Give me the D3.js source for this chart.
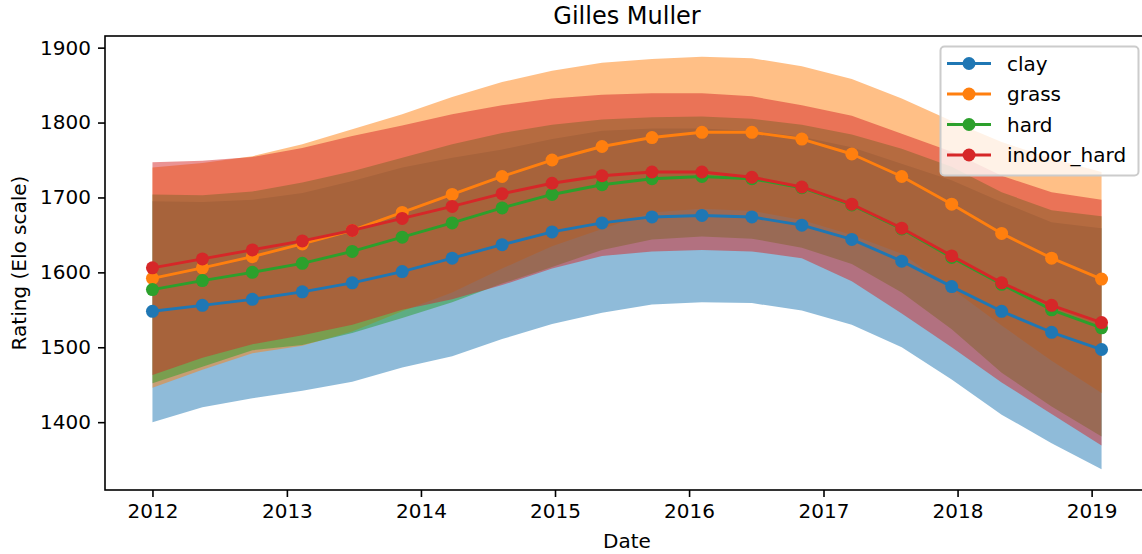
<!DOCTYPE html>
<html>
<head>
<meta charset="utf-8">
<script src="https://cdn.jsdelivr.net/npm/d3@7/dist/d3.min.js"></script>
<style>
  body { margin: 0; background: #fff; }
  svg { display: block; font-family: "DejaVu Sans", sans-serif; }
</style>
</head>
<body>
<svg id="chart" width="1142" height="554"></svg>
<script>
// dates of the rating estimates
const dates = ["2012-01-01","2012-05-16","2012-09-29","2013-02-12","2013-06-28","2013-11-11","2014-03-27","2014-08-10","2014-12-24","2015-05-09",
               "2015-09-22","2016-02-05","2016-06-20","2016-11-03","2017-03-19","2017-08-02","2017-12-16","2018-05-01","2018-09-14","2019-01-28"]

const surfaces = ["clay","grass","hard","indoor_hard"]
const colors   = ["#1f77b4","#ff7f0e","#2ca02c","#d62728"]

// mean rating per surface
const clay        = [1548,1556,1564,1574,1586,1601,1619,1637,1654,1666,1674,1676,1674,1663,1644,1615,1581,1548,1520,1497]
const grass       = [1592,1606,1621,1638,1656,1680,1704,1728,1750,1768,1780,1787,1787,1778,1758,1728,1691,1652,1619,1591]
const hard        = [1577,1589,1600,1612,1628,1647,1666,1686,1704,1717,1725,1728,1725,1713,1690,1658,1620,1584,1550,1526]
const indoor_hard = [1606,1618,1630,1642,1656,1672,1688,1705,1719,1729,1734,1734,1727,1714,1691,1659,1622,1586,1556,1533]

// uncertainty bands (lower / upper)
const clayLo   = [1400,1420,1432,1442,1454,1473,1488,1511,1531,1546,1557,1560,1559,1549,1530,1500,1457,1410,1372,1337]
const clayHi   = [1695,1694,1697,1706,1722,1740,1753,1764,1778,1789,1792,1792,1789,1781,1767,1745,1723,1694,1667,1659]
const grassLo  = [1446,1470,1492,1502,1521,1548,1573,1605,1635,1658,1680,1685,1682,1670,1650,1625,1578,1529,1482,1439]
const grassHi  = [1740,1746,1755,1771,1791,1811,1834,1854,1869,1880,1885,1888,1886,1875,1858,1832,1802,1774,1752,1734]
const hardLo   = [1452,1474,1496,1503,1519,1539,1560,1585,1607,1630,1644,1648,1645,1633,1611,1573,1524,1466,1421,1381]
const hardHi   = [1704,1703,1708,1720,1735,1753,1771,1786,1797,1804,1807,1808,1805,1797,1784,1765,1741,1707,1683,1675]
const indoorLo = [1463,1486,1504,1516,1530,1550,1564,1583,1605,1622,1628,1630,1628,1619,1588,1545,1500,1453,1411,1369]
const indoorHi = [1747,1749,1754,1766,1782,1796,1811,1823,1832,1837,1839,1839,1835,1823,1809,1785,1761,1729,1707,1697]

const yTicks = [1400,1500,1600,1700,1800,1900]

const means = [clay, grass, hard, indoor_hard]
const lows  = [clayLo, grassLo, hardLo, indoorLo]
const highs = [clayHi, grassHi, hardHi, indoorHi]

const parse = d3.utcParse("%Y-%m-%d")
const xs = dates.map(parse)

let svg = d3.select("#chart")
let m = {left: 105, top: 36, right: 1149, bottom: 490}

// matplotlib style 5% margins
let t0 = xs[0].getTime(), t1 = xs[xs.length-1].getTime()
let tPad = (t1 - t0) * 0.05
let x = d3.scaleUtc()
	.domain([new Date(t0 - tPad), new Date(t1 + tPad)])
	.range([m.left, m.right])

let yMin = d3.min(lows, a => d3.min(a)), yMax = d3.max(highs, a => d3.max(a))
let yPad = (yMax - yMin) * 0.05
let y = d3.scaleLinear()
	.domain([yMin - yPad, yMax + yPad])
	.range([m.bottom, m.top])

let g = svg.append("g")

// bands
surfaces.forEach((s, k) => {
	let area = d3.area()
		.x((d, i) => x(xs[i]))
		.y0((d, i) => y(lows[k][i]))
		.y1((d, i) => y(highs[k][i]))
	g.append("path")
		.datum(means[k])
		.attr("fill", colors[k])
		.attr("fill-opacity", 0.5)
		.attr("d", area)
})

// lines + markers
surfaces.forEach((s, k) => {
	let line = d3.line()
		.x((d, i) => x(xs[i]))
		.y(d => y(d))
	g.append("path")
		.datum(means[k])
		.attr("fill", "none")
		.attr("stroke", colors[k])
		.attr("stroke-width", 2.9)
		.attr("stroke-linejoin", "round")
		.attr("d", line)
	g.selectAll(".pt" + k)
		.data(means[k])
		.enter().append("circle")
		.attr("cx", (d, i) => x(xs[i]))
		.attr("cy", d => y(d))
		.attr("r", 6.5)
		.attr("fill", colors[k])
})

// axes
let xAxis = d3.axisBottom(x)
	.ticks(d3.utcYear.every(1))
	.tickFormat(d3.utcFormat("%Y"))
	.tickSizeOuter(0)
	.tickSize(7)
	.tickPadding(7)
let yAxis = d3.axisLeft(y)
	.tickValues(yTicks)
	.tickFormat(d3.format("d"))
	.tickSizeOuter(0)
	.tickSize(7)
	.tickPadding(7)

let gx = svg.append("g").attr("transform", "translate(0," + m.bottom + ")").call(xAxis)
let gy = svg.append("g").attr("transform", "translate(" + m.left + ",0)").call(yAxis)
;[gx, gy].forEach(a => {
	a.select(".domain").remove()
	a.selectAll("line").attr("stroke", "#000").attr("stroke-width", 1.6)
	a.selectAll("text").attr("fill", "#000").style("font-size", "20px").style("font-family", "DejaVu Sans")
})

// frame
svg.append("rect")
	.attr("x", m.left).attr("y", m.top)
	.attr("width", m.right - m.left).attr("height", m.bottom - m.top)
	.attr("fill", "none").attr("stroke", "#000").attr("stroke-width", 1.6)

// titles
svg.append("text")
	.attr("x", (m.left + m.right) / 2).attr("y", 24)
	.attr("text-anchor", "middle").style("font-size", "24px")
	.text("Gilles Muller")
svg.append("text")
	.attr("x", (m.left + m.right) / 2).attr("y", 548)
	.attr("text-anchor", "middle").style("font-size", "20px")
	.text("Date")
svg.append("text")
	.attr("transform", "translate(26," + ((m.top + m.bottom) / 2) + ") rotate(-90)")
	.attr("text-anchor", "middle").style("font-size", "20px")
	.text("Rating (Elo scale)")

// legend
let lg = svg.append("g")
lg.append("rect")
	.attr("x", 940.5).attr("y", 46.5).attr("width", 198).attr("height", 129)
	.attr("rx", 4)
	.attr("fill", "#fff").attr("fill-opacity", 0.8)
	.attr("stroke", "#cccccc").attr("stroke-width", 2)
surfaces.forEach((s, k) => {
	let cy = 63.5 + k * 30.5
	lg.append("line")
		.attr("x1", 947).attr("x2", 991).attr("y1", cy).attr("y2", cy)
		.attr("stroke", colors[k]).attr("stroke-width", 2.9)
	lg.append("circle").attr("cx", 969).attr("cy", cy).attr("r", 6.5).attr("fill", colors[k])
	lg.append("text")
		.attr("x", 1007).attr("y", cy + 7)
		.style("font-size", "20px")
		.text(s)
})
</script>
</body>
</html>
